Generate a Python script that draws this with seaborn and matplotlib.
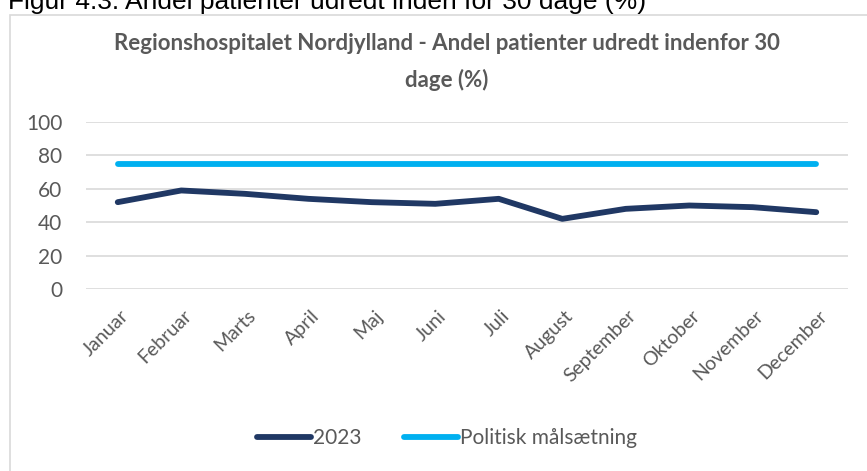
import matplotlib
matplotlib.use("Agg")
import matplotlib.pyplot as plt
import matplotlib.transforms as mtrans
import seaborn as sns
import pandas as pd
from matplotlib.patches import Rectangle
from matplotlib.lines import Line2D

months = ["Januar", "Februar", "Marts", "April", "Maj", "Juni", "Juli",
          "August", "September", "Oktober", "November", "December"]
values_2023 = [52, 59, 57, 54, 52, 51, 54, 42, 48, 50, 49, 46]
target = [75] * 12
series_names = ["2023", "Politisk målsætning"]

df = pd.DataFrame({
    "month": months * 2,
    "x": list(range(12)) * 2,
    "value": values_2023 + target,
    "series": [series_names[0]] * 12 + [series_names[1]] * 12,
})

sns.set_style("white")
plt.rcParams["font.family"] = ["Lato", "DejaVu Sans"]

navy = "#203864"
lblue = "#00B0F0"
gray = "#595959"

fig = plt.figure(figsize=(8.67, 4.71), dpi=100)
W, H = 867, 471

# outer chart frame
fig.patches.append(Rectangle((10 / W, -0.1), 1.2, 1 - 15 / H + 0.1,
                             transform=fig.transFigure, fill=False,
                             edgecolor="#D9D9D9", linewidth=1.2))

# caption (partly cut off at the top, as in the reference)
fig.text(8 / W, 1 - 9 / H, "Figur 4.3: Andel patienter udredt inden for 30 dage (%)",
         fontsize=19, family=["Liberation Sans", "DejaVu Sans"], color="black",
         ha="left", va="baseline")

ax = fig.add_axes([86 / W, 1 - 289 / H, (848 - 86) / W, (289 - 122) / H])
sns.lineplot(data=df, x="x", y="value", hue="series",
             palette={series_names[0]: navy, series_names[1]: lblue},
             linewidth=4.2, ax=ax, legend=False, solid_capstyle="round")

ax.set_xlim(-0.5, 11.5)
ax.set_ylim(0, 100)
ax.set_yticks(range(0, 101, 20))
ax.yaxis.grid(True, color="#D9D9D9", linewidth=1.2)
ax.set_axisbelow(True)
for s in ax.spines.values():
    s.set_visible(False)
ax.set_xlabel("")
ax.set_ylabel("")
ax.set_xticks(range(12))
ax.set_xticklabels(months, rotation=45, ha="right", rotation_mode="anchor",
                   fontsize=14, color=gray)
ax.tick_params(axis="x", length=0, pad=13)
ax.tick_params(axis="y", length=0, pad=17, labelsize=15, labelcolor=gray)
offset = mtrans.ScaledTranslation(2 / 100, 0, fig.dpi_scale_trans)
for lbl in ax.get_xticklabels():
    lbl.set_transform(lbl.get_transform() + offset)

fig.text(447 / W, 1 - 44 / H, "Regionshospitalet Nordjylland - Andel patienter udredt indenfor 30",
         ha="center", va="center", fontsize=16, fontweight="bold", color=gray)
fig.text(447 / W, 1 - 80 / H, "dage (%)",
         ha="center", va="center", fontsize=16, fontweight="bold", color=gray)

handles = [Line2D([0], [0], color=navy, lw=4.2, solid_capstyle="round"),
           Line2D([0], [0], color=lblue, lw=4.2, solid_capstyle="round")]
fig.legend(handles, series_names, loc="center", bbox_to_anchor=(447 / W, 1 - 438 / H),
           ncol=2, frameon=False, fontsize=15, labelcolor=gray,
           handlelength=2.6, handletextpad=0.1, columnspacing=2.0)

fig.savefig("out.png", dpi=100)
